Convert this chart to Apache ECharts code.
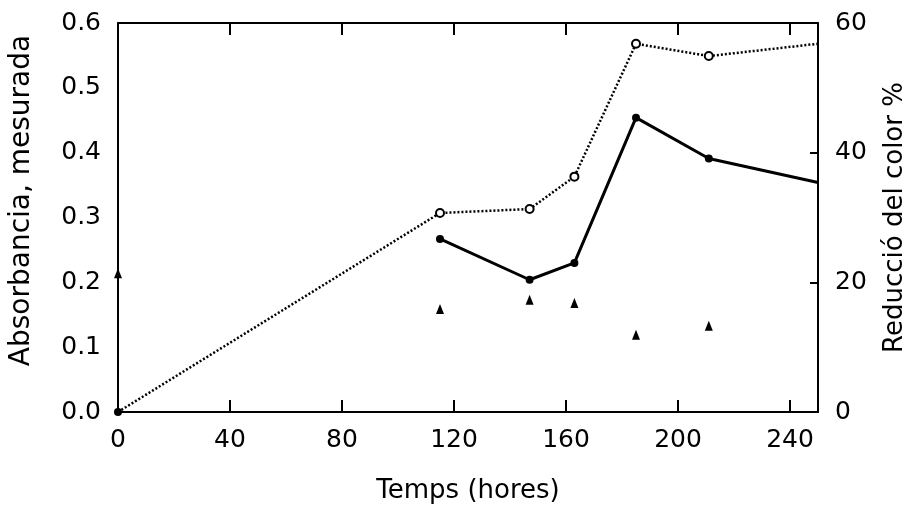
<!DOCTYPE html>
<html>
<head>
<meta charset="utf-8">
<script src="https://cdn.jsdelivr.net/npm/echarts@6/dist/echarts.min.js"></script>
<style>html,body{margin:0;padding:0;background:#fff;}#chart{width:912px;height:515px;}</style>
</head>
<body>
<div id="chart"></div>
<script>
// Reducció del color % (right axis, dotted line)
const reductionHours = [0, 115, 147, 163, 185, 211, 250];
const reductionValues = [0, 30.7, 31.3, 36.3, 56.8, 54.9, 56.8];
// Absorbància mesurada (left axis, solid line)
const absorbanceHours = [115, 147, 163, 185, 211, 250];
const absorbanceValues = [0.267, 0.204, 0.230, 0.454, 0.391, 0.354];
// Triangle markers (left axis)
const triangleHours = [0, 115, 147, 163, 185, 211];
const triangleValues = [0.214, 0.159, 0.173, 0.168, 0.119, 0.133];

const xTitle = 'Temps (hores)';
const yLeftTitle = 'Absorbancia, mesurada';
const yRightTitle = 'Reducció del color %';

const FONT = 'DejaVu Sans';
const chart = echarts.init(document.getElementById('chart'), null, {renderer: 'canvas'});

const reductionData = reductionHours.map((h, i) => {
  const item = {value: [h, reductionValues[i]]};
  if (i === 0) { item.symbol = 'circle'; item.symbolSize = 8; }
  else if (i === reductionHours.length - 1) { item.symbol = 'none'; }
  return item;
});
const absorbanceData = absorbanceHours.map((h, i) => {
  const item = {value: [h, absorbanceValues[i]]};
  if (i === absorbanceHours.length - 1) item.symbol = 'none';
  return item;
});
const triangleData = triangleHours.map((h, i) => [h, triangleValues[i]]);

const axisLine = {show: true, onZero: false, lineStyle: {color: '#000', width: 2}};
const xTick = {show: true, inside: true, length: 12, lineStyle: {color: '#000', width: 2}};
const yTick = {show: true, inside: true, length: 8, lineStyle: {color: '#000', width: 2}};
const labelStyle = {color: '#000', fontFamily: FONT, fontSize: 25};

chart.setOption({
  backgroundColor: '#fff',
  animation: false,
  grid: {left: 118, right: 94, top: 23, bottom: 103, containLabel: false, outerBoundsMode: 'none'},
  xAxis: [
    {
      type: 'value', min: 0, max: 250, interval: 40, position: 'bottom',
      name: xTitle, nameLocation: 'middle', nameGap: 66,
      nameTextStyle: {color: '#000', fontFamily: FONT, fontSize: 26},
      axisLine: axisLine, axisTick: xTick,
      axisLabel: Object.assign({margin: 16, showMaxLabel: false}, labelStyle),
      splitLine: {show: false}
    },
    {
      type: 'value', min: 0, max: 250, interval: 40, position: 'top',
      axisLine: axisLine, axisTick: xTick,
      axisLabel: {show: false},
      splitLine: {show: false}
    }
  ],
  yAxis: [
    {
      type: 'value', min: 0, max: 0.6, interval: 0.1, position: 'left',
      name: yLeftTitle, nameLocation: 'middle', nameGap: 82, nameRotate: 90,
      nameTextStyle: {color: '#000', fontFamily: FONT, fontSize: 28, padding: [0, 0, 0, 34]},
      axisLine: axisLine,
      axisTick: {show: false},
      axisLabel: Object.assign({margin: 17, formatter: v => v.toFixed(1)}, labelStyle),
      splitLine: {show: false}
    },
    {
      type: 'value', min: 0, max: 60, interval: 20, position: 'right',
      name: yRightTitle, nameLocation: 'middle', nameGap: 64, nameRotate: 90,
      nameTextStyle: {color: '#000', fontFamily: FONT, fontSize: 26},
      axisLine: axisLine, axisTick: yTick,
      axisLabel: Object.assign({margin: 17}, labelStyle),
      splitLine: {show: false}
    }
  ],
  series: [
    {
      type: 'line', yAxisIndex: 1, data: reductionData,
      symbol: 'emptyCircle', symbolSize: 8, showAllSymbol: true,
      lineStyle: {color: '#000', width: 2.5, type: [2, 2]},
      itemStyle: {color: '#000', borderWidth: 1.5, opacity: 1},
      z: 3
    },
    {
      type: 'line', yAxisIndex: 0, data: absorbanceData,
      symbol: 'circle', symbolSize: 8, showAllSymbol: true,
      lineStyle: {color: '#000', width: 3},
      itemStyle: {color: '#000', opacity: 1},
      z: 3
    },
    {
      type: 'scatter', yAxisIndex: 0, data: triangleData,
      symbol: 'triangle', symbolSize: [8, 10],
      itemStyle: {color: '#000', opacity: 1},
      z: 3
    }
  ]
});
</script>
</body>
</html>
